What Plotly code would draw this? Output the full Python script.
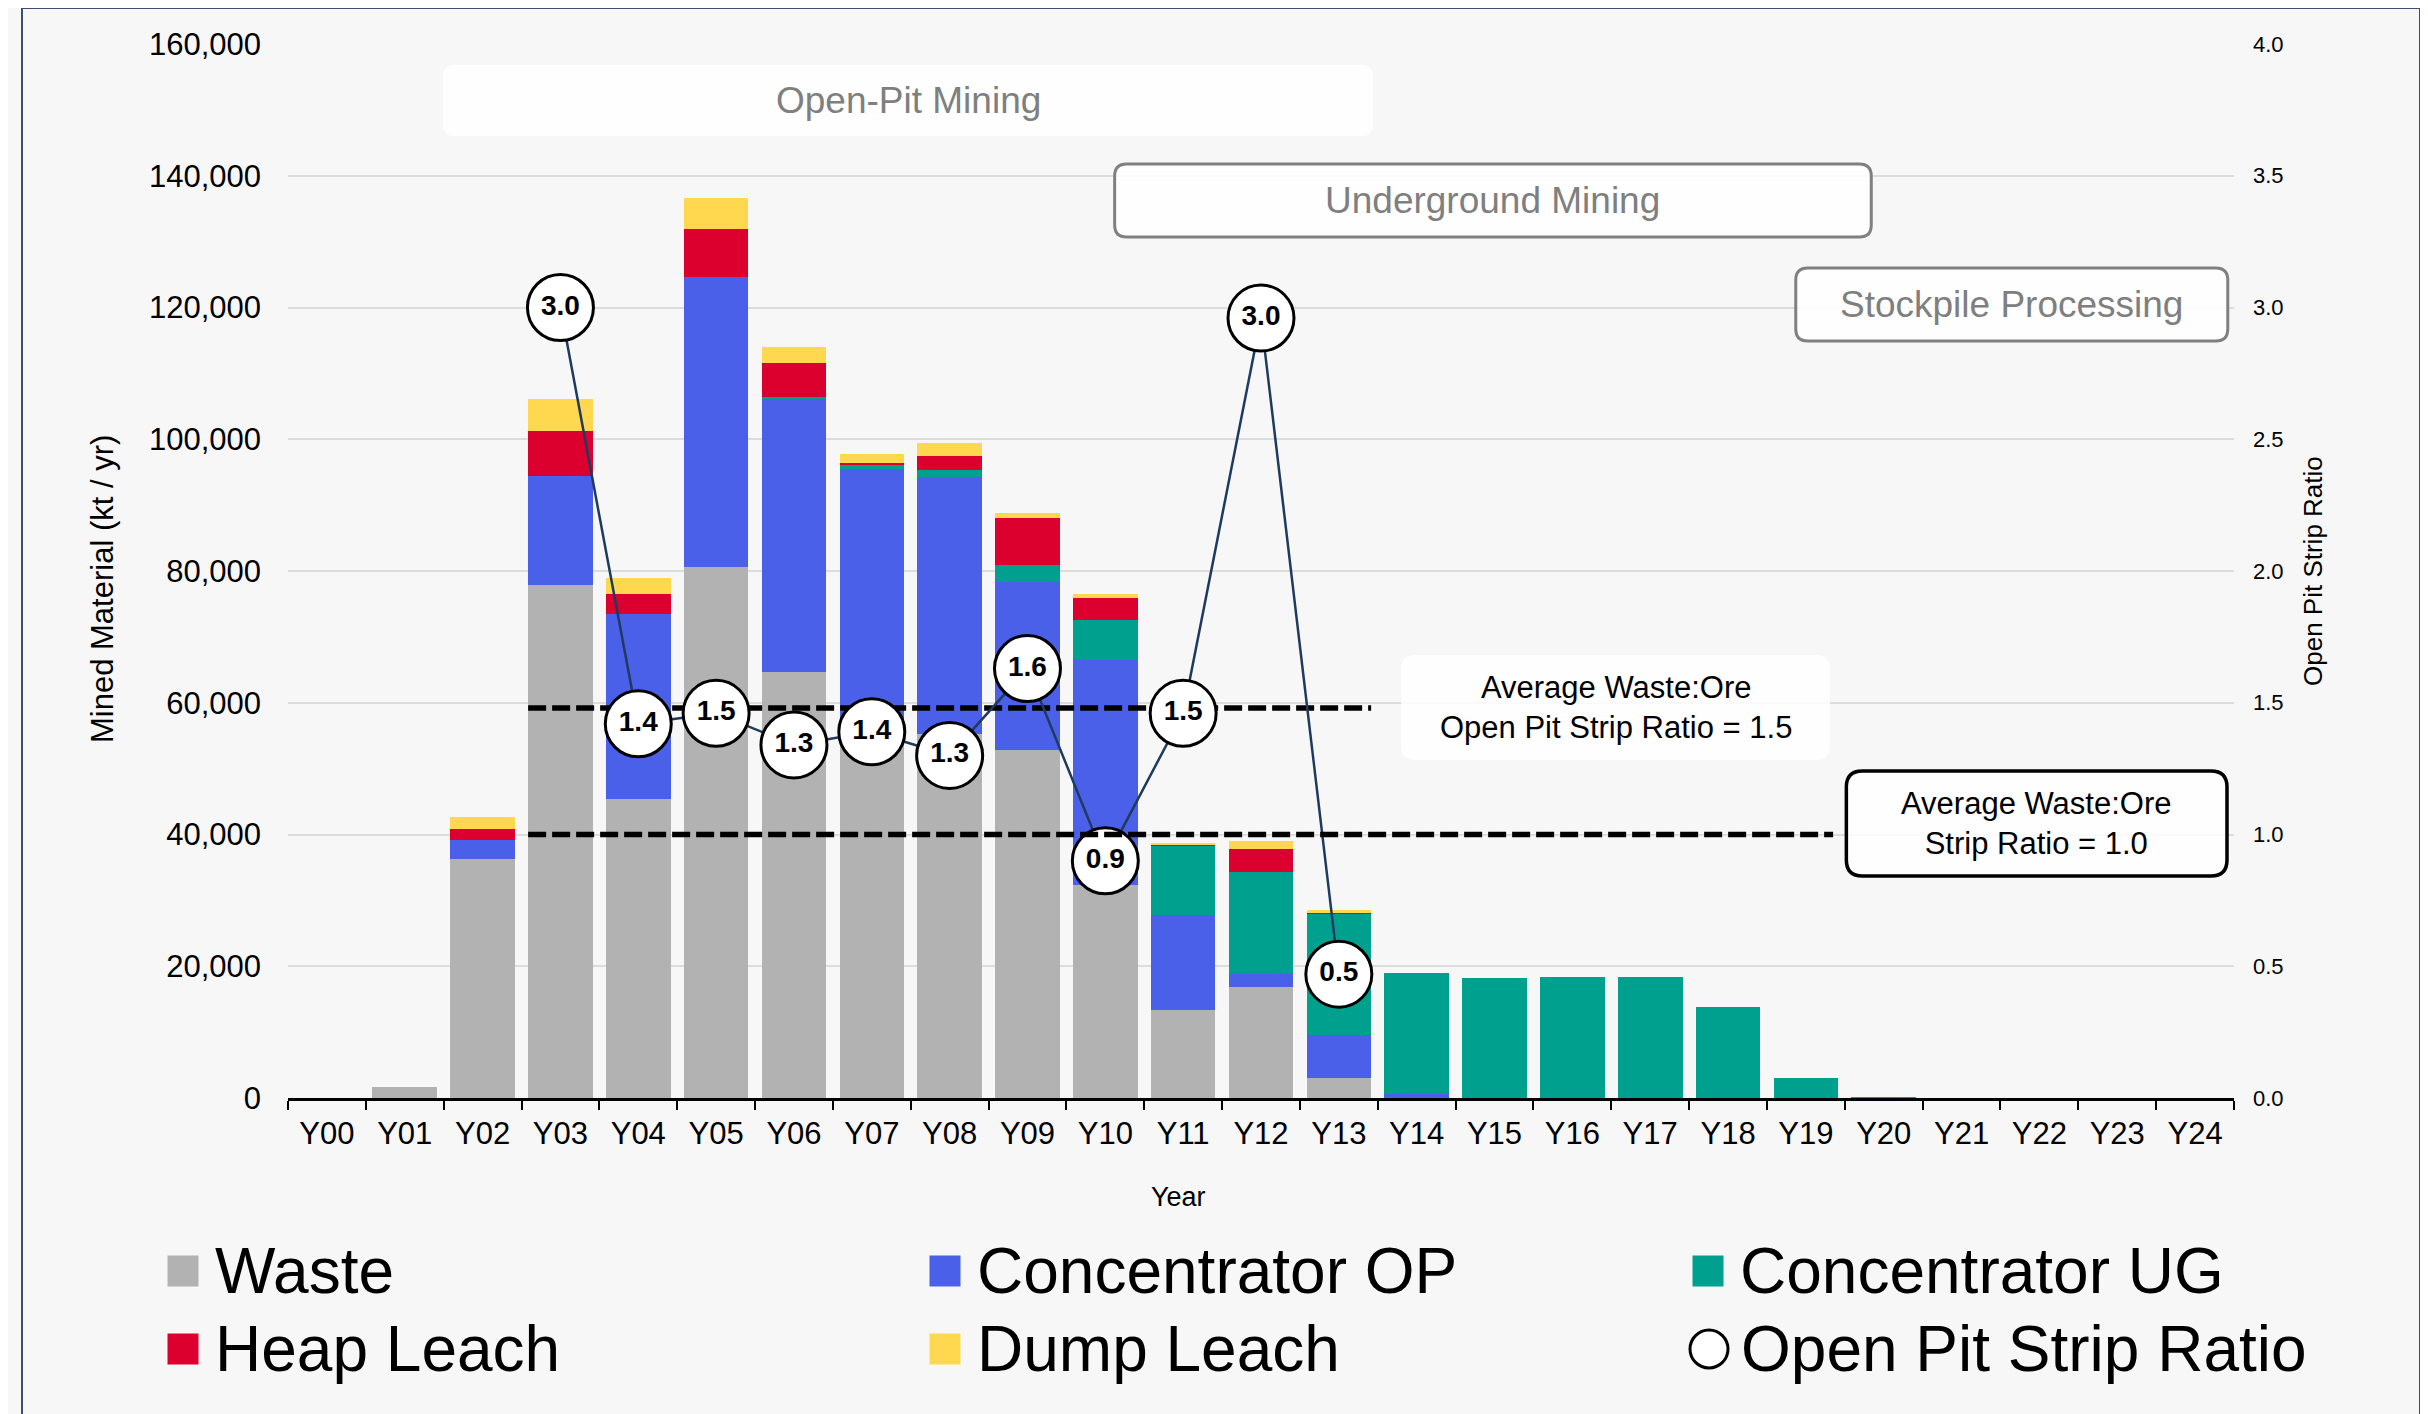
import plotly.graph_objects as go

# ---- data (kt / yr) ----
years = ["Y00", "Y01", "Y02", "Y03", "Y04", "Y05", "Y06", "Y07", "Y08", "Y09", "Y10", "Y11", "Y12",
         "Y13", "Y14", "Y15", "Y16", "Y17", "Y18", "Y19", "Y20", "Y21", "Y22", "Y23", "Y24"]

waste = [0, 1700, 36250, 77800, 45400, 80600, 64700, 57500, 55300, 52900, 32350, 13300, 16900,
         3000, 0, 0, 0, 0, 0, 0, 0, 0, 0, 0, 0]
concentrator_op = [0, 0, 2950, 16550, 28050, 44100, 41550, 38000, 39000, 25500, 34100, 14500, 1970,
                   6550, 650, 0, 0, 0, 0, 0, 0, 0, 0, 0, 0]
concentrator_ug = [0, 0, 0, 0, 0, 0, 150, 700, 1000, 2450, 6050, 10580, 15400,
                   18450, 18350, 18200, 18300, 18300, 13750, 3100, 150, 0, 0, 0, 0]
heap_leach = [0, 0, 1560, 6900, 3000, 7200, 5100, 170, 2200, 7200, 3370, 100, 3530,
              200, 0, 0, 0, 0, 0, 0, 0, 0, 0, 0, 0]
dump_leach = [0, 0, 1870, 4850, 2450, 4760, 2450, 1400, 1900, 770, 580, 80, 1280,
              300, 0, 0, 0, 0, 0, 0, 0, 0, 0, 0, 0]

strip_ratio = [None, None, None, 3.00, 1.42, 1.46, 1.34, 1.39, 1.30, 1.63, 0.90, 1.46, 2.96,
               0.47, None, None, None, None, None, None, None, None, None, None, None]

avg_op_strip = 1.48   # shown as 1.5
avg_strip = 1.0

FONT = "Liberation Sans, Arial, sans-serif"
COLORS = {
    "Waste": "#B2B2B2",
    "Concentrator OP": "#4A60E8",
    "Concentrator UG": "#00A08F",
    "Heap Leach": "#DC002E",
    "Dump Leach": "#FFD84F",
}
BG = "#F7F7F7"
LINE_COL = "#1F3A5F"

# the page body adds an 8px margin, so the figure is laid out 8px smaller
OFF = 8
W, H = 2428 - OFF, 1414 - OFF
ML, MR, MT = 288 - OFF, 194, 44 - OFF
MB = H - (1098 - OFF)
PW, PH = W - ML - MR, H - MT - MB
Y_MAX = 160000
BARGAP = 0.17
half_bar = (1 - BARGAP) / 2

# pixel -> axis unit helpers for layout decorations
PX_X = len(years) / PW
PX_Y = Y_MAX / PH


def px_to_paper(x, y):
    # x, y are page pixels
    return (x - OFF - ML) / PW, (MT + PH - (y - OFF)) / PH


fig = go.Figure()

series = [("Waste", waste), ("Concentrator OP", concentrator_op), ("Concentrator UG", concentrator_ug),
          ("Heap Leach", heap_leach), ("Dump Leach", dump_leach)]
for name, vals in series:
    fig.add_trace(
        go.Bar(
            x=years,
            y=vals,
            name=name,
            marker=dict(color=COLORS[name], line=dict(width=0)),
            showlegend=False,
        )
    )

idx = list(range(len(years)))

# average open pit strip ratio line (above bars, below markers)
fig.add_trace(
    go.Scatter(
        x=[years.index("Y03") - half_bar, years.index("Y13") + half_bar],
        y=[avg_op_strip, avg_op_strip],
        xaxis="x2",
        yaxis="y2",
        mode="lines",
        line=dict(color="black", width=5.5, dash="18px,6px"),
        showlegend=False,
        hoverinfo="skip",
    )
)

# open pit strip ratio
fig.add_trace(
    go.Scatter(
        x=idx,
        y=strip_ratio,
        xaxis="x2",
        yaxis="y2",
        name="Open Pit Strip Ratio",
        mode="lines+markers+text",
        line=dict(color=LINE_COL, width=2.5),
        marker=dict(size=66, color="white", line=dict(color="black", width=3)),
        text=[f"{v:.1f}" if v is not None else "" for v in strip_ratio],
        textposition="middle center",
        textfont=dict(family=FONT, size=28, color="black", weight="bold"),
        showlegend=False,
    )
)

# overall average strip ratio line (on top)
fig.add_trace(
    go.Scatter(
        x=[years.index("Y03") - half_bar, 19.35],
        y=[avg_strip, avg_strip],
        xaxis="x2",
        yaxis="y2",
        mode="lines",
        line=dict(color="black", width=5.5, dash="18px,6px"),
        showlegend=False,
        hoverinfo="skip",
    )
)


def rounded_box(x0, x1, y0, y1, r, line_color, line_width, fill):
    rx, ry = r * PX_X, r * PX_Y
    path = (f"M {x0 + rx},{y0} L {x1 - rx},{y0} Q {x1},{y0} {x1},{y0 + ry} "
            f"L {x1},{y1 - ry} Q {x1},{y1} {x1 - rx},{y1} L {x0 + rx},{y1} "
            f"Q {x0},{y1} {x0},{y1 - ry} L {x0},{y0 + ry} Q {x0},{y0} {x0 + rx},{y0} Z")
    return dict(type="path", path=path, xref="x2", yref="y", layer="above",
                line=dict(color=line_color, width=line_width), fillcolor=fill)


boxes = [
    # x0, x1, y0, y1, radius, border colour, border width, text, text colour, size
    (1.49, 13.44, 146000, 156800, 12, "rgba(255,255,255,0)", 0, "Open-Pit Mining", "#7F7F7F", 37),
    (10.12, 19.84, 130700, 141800, 12, "#808080", 3, "Underground Mining", "#7F7F7F", 37),
    (18.87, 24.42, 114900, 126000, 12, "#808080", 3, "Stockpile Processing", "#7F7F7F", 37),
    (13.80, 19.31, 51300, 67250, 14, "rgba(255,255,255,0)", 0,
     "Average Waste:Ore<br>Open Pit Strip Ratio = 1.5", "black", 31),
    (19.52, 24.41, 33700, 49650, 16, "black", 3.5, "Average Waste:Ore<br>Strip Ratio = 1.0", "black", 31),
]

shapes = []
annotations = []
for x0, x1, y0, y1, r, lc, lw, txt, tc, fs in boxes:
    shapes.append(rounded_box(x0, x1, y0, y1, r, lc, lw, "rgba(255,255,255,0.85)"))
    annotations.append(dict(x=(x0 + x1) / 2, y=(y0 + y1) / 2, xref="x2", yref="y", text=txt,
                            showarrow=False, font=dict(family=FONT, size=fs, color=tc),
                            xanchor="center", yanchor="middle", align="center"))

# outer frame
fx0, fy1 = px_to_paper(22, 8)
fx1, fy0 = px_to_paper(2420, 1440)
shapes.append(dict(type="rect", xref="paper", yref="paper", x0=fx0, x1=fx1, y0=fy0, y1=fy1,
                   line=dict(color="#3E4F6E", width=2), fillcolor="rgba(0,0,0,0)", layer="below"))

# axis titles
tx, ty = px_to_paper(102, 589)
annotations.append(dict(x=tx, y=ty, xref="paper", yref="paper", text="Mined Material (kt / yr)",
                        textangle=-90, showarrow=False, xanchor="center", yanchor="middle",
                        font=dict(family=FONT, size=31, color="black")))
tx, ty = px_to_paper(2313, 571)
annotations.append(dict(x=tx, y=ty, xref="paper", yref="paper", text="Open Pit Strip Ratio",
                        textangle=-90, showarrow=False, xanchor="center", yanchor="middle",
                        font=dict(family=FONT, size=26, color="black")))
tx, ty = px_to_paper(1178, 1197)
annotations.append(dict(x=tx, y=ty, xref="paper", yref="paper", text="Year",
                        showarrow=False, xanchor="center", yanchor="middle",
                        font=dict(family=FONT, size=27, color="black")))

# legend (3 columns x 2 rows)
legend_items = [
    ("Waste", 183, 1271, "square"),
    ("Concentrator OP", 945, 1271, "square"),
    ("Concentrator UG", 1708, 1271, "square"),
    ("Heap Leach", 183, 1349, "square"),
    ("Dump Leach", 945, 1349, "square"),
    ("Open Pit Strip Ratio", 1709, 1349, "circle"),
]
for name, cx, cy, kind in legend_items:
    if kind == "square":
        a0, b1 = px_to_paper(cx - 15.5, cy - 15.5)
        a1, b0 = px_to_paper(cx + 15.5, cy + 15.5)
        shapes.append(dict(type="rect", xref="paper", yref="paper", x0=a0, x1=a1, y0=b0, y1=b1,
                           line=dict(width=0), fillcolor=COLORS[name]))
    else:
        a0, b1 = px_to_paper(cx - 19, cy - 19)
        a1, b0 = px_to_paper(cx + 19, cy + 19)
        shapes.append(dict(type="circle", xref="paper", yref="paper", x0=a0, x1=a1, y0=b0, y1=b1,
                           line=dict(color="black", width=3), fillcolor="white"))
    tx, ty = px_to_paper(cx + 30, cy)
    annotations.append(dict(x=tx, y=ty, xref="paper", yref="paper", text=name, showarrow=False,
                            xanchor="left", yanchor="middle",
                            font=dict(family=FONT, size=64, color="black")))

fig.update_layout(
    width=W,
    height=H,
    autosize=False,
    margin=dict(l=ML, r=MR, t=MT, b=MB),
    paper_bgcolor=BG,
    plot_bgcolor=BG,
    barmode="stack",
    bargap=BARGAP,
    showlegend=False,
    font=dict(family=FONT, color="black"),
    xaxis=dict(
        type="category",
        tickson="boundaries",
        ticks="outside",
        ticklen=9,
        tickwidth=2,
        tickcolor="black",
        showline=True,
        linecolor="black",
        linewidth=2.5,
        showgrid=False,
        tickfont=dict(family=FONT, size=31, color="black"),
        ticklabelstandoff=6,
    ),
    xaxis2=dict(overlaying="x", range=[-0.5, len(years) - 0.5], visible=False),
    yaxis=dict(
        range=[0, Y_MAX],
        dtick=20000,
        tickformat=",d",
        showgrid=True,
        gridcolor="#DCDCDC",
        gridwidth=2,
        zeroline=False,
        ticks="",
        tickfont=dict(family=FONT, size=31, color="black"),
        ticklabelstandoff=26,
    ),
    yaxis2=dict(
        overlaying="y",
        side="right",
        range=[0, 4],
        dtick=0.5,
        tickformat=".1f",
        showgrid=False,
        zeroline=False,
        ticks="",
        tickfont=dict(family=FONT, size=22, color="black"),
        ticklabelstandoff=18,
    ),
    shapes=shapes,
    annotations=annotations,
)

fig.write_html("out.html")
